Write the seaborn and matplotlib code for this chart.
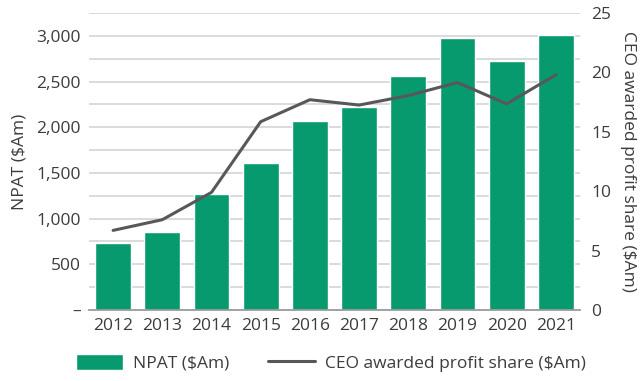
import numpy as np
import pandas as pd
import matplotlib
matplotlib.use("Agg")
import matplotlib.pyplot as plt
import seaborn as sns
from matplotlib.ticker import FixedLocator, FuncFormatter

years = ["2012", "2013", "2014", "2015", "2016", "2017", "2018", "2019", "2020", "2021"]
npat = [736, 853, 1269, 1608, 2068, 2221, 2560, 2976, 2724, 3009]
ceo_share = [6.7, 7.6, 9.9, 15.85, 17.7, 17.25, 18.05, 19.15, 17.35, 19.8]

left_ticks = [0, 500, 1000, 1500, 2000, 2500, 3000]
right_ticks = [0, 5, 10, 15, 20, 25]

green = "#079a6e"
line_grey = "#58585a"
text_col = "#3c3c3c"
grid_col = "#d4d4d4"

sns.set_theme(style="white")
plt.rcParams["font.family"] = ["Open Sans", "DejaVu Sans"]

df = pd.DataFrame({"year": years, "npat": npat, "ceo": ceo_share})
df["pos"] = np.arange(len(df))

fig = plt.figure(figsize=(6.43, 3.81), dpi=100)
ax = fig.add_axes([0.1384, 0.1864, 0.7636, 0.7795])

# gridlines every 250 on the NPAT scale
for g in np.arange(250, 3251, 250):
    ax.axhline(g, color=grid_col, lw=1.2, zorder=0)

sns.barplot(data=df, x="year", y="npat", color=green, width=0.73,
            saturation=1, ax=ax, zorder=2, label="NPAT ($Am)")
if ax.get_legend() is not None:
    ax.get_legend().remove()
ax.set_xlim(-0.49, len(years) - 0.51)
ax.set_ylim(0, 3250)
ax.yaxis.set_major_locator(FixedLocator(left_ticks))
ax.yaxis.set_major_formatter(FuncFormatter(lambda v, p: "–" if v == 0 else f"{int(v):,}"))
ax.set_xlabel("")
ax.set_ylabel("NPAT ($Am)", fontsize=12.5, color=text_col, labelpad=6)
ax.tick_params(axis="both", labelsize=12.5, colors=text_col, length=0, pad=6)
for s in ["top", "right", "left"]:
    ax.spines[s].set_visible(False)
ax.spines["bottom"].set_color("#9a9a9a")
ax.spines["bottom"].set_linewidth(1.3)
ax.spines["bottom"].set_zorder(3)

ax2 = ax.twinx()
sns.lineplot(data=df, x="pos", y="ceo", color=line_grey, lw=2.2, ax=ax2,
             label="CEO awarded profit share ($Am)", legend=False, zorder=4)
if ax2.get_legend() is not None:
    ax2.get_legend().remove()
ax2.set_ylim(0, 25)
ax2.yaxis.set_major_locator(FixedLocator(right_ticks))
ax2.set_ylabel("CEO awarded profit share ($Am)", fontsize=12.5, color=text_col,
               rotation=-90, labelpad=18)
ax2.tick_params(axis="y", labelsize=12.5, colors=text_col, length=0, pad=8)
for s in ["top", "right", "left", "bottom"]:
    ax2.spines[s].set_visible(False)
ax2.set_xlim(-0.49, len(years) - 0.51)

h1, l1 = ax.get_legend_handles_labels()
h2, l2 = ax2.get_legend_handles_labels()
fig.legend(h1 + h2, l1 + l2, loc="center", bbox_to_anchor=(0.515, 0.047), ncol=2,
           frameon=False, fontsize=12.5, handlelength=2.7, handleheight=1.0,
           columnspacing=2.2, handletextpad=0.6, labelcolor=text_col)

fig.savefig("out.png", dpi=100)
